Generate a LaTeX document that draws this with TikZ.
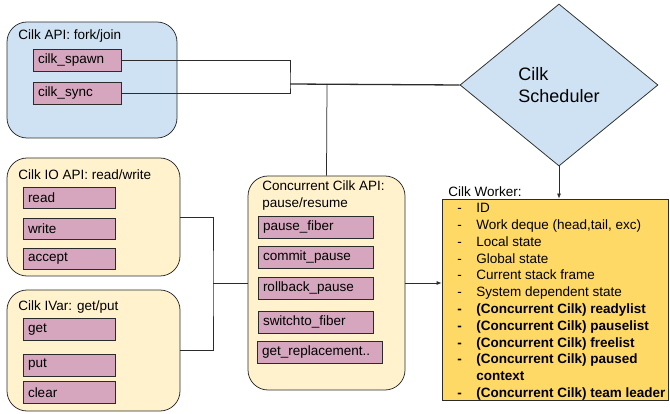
\documentclass[tikz,border=0pt]{standalone}
\usepackage{fontspec}
\setmainfont{Liberation Sans}
\usetikzlibrary{shapes.geometric,arrows.meta}
\definecolor{apiblue}{HTML}{CFE2F3}
\definecolor{apicream}{HTML}{FFF2CC}
\definecolor{fnpink}{HTML}{D5A6BD}
\definecolor{workergold}{HTML}{FFD966}
\definecolor{edgegray}{HTML}{2B2B2B}
\tikzset{every picture/.style={line width=0.75pt}}
\tikzset{
  groupbox/.style={draw=edgegray, rounded corners=20pt, inner sep=0pt},
  fnbox/.style={draw=edgegray, fill=fnpink, inner xsep=5pt, inner ysep=0pt,
    minimum height=22pt, text width=#1, align=left},
  grouptitle/.style={anchor=west, inner sep=0pt, align=left},
  wire/.style={draw=edgegray},
  feed/.style={draw=edgegray, -{Latex[length=5pt,width=4pt]}}
}
\newcommand{\apifont}{\fontsize{13.5}{16.8}\selectfont}

\begin{document}
\begin{tikzpicture}[x=1pt, y=-1pt, font=\apifont]
\useasboundingbox (0,0) rectangle (670,414);
% fork/join group
\node[groupbox, fill=apiblue, minimum width=170pt, minimum height=116pt] (forkjoin) at (92,80) {};
\node[grouptitle] (forkjointitle) at (18,36) {Cilk API: fork/join};
\node[fnbox=78pt] (spawn) at (77,60) {cilk\_spawn};
\node[fnbox=78pt] (sync) at (77,93.5) {cilk\_sync};
%
% IO group
\node[groupbox, fill=apicream, minimum width=173pt, minimum height=118pt] (io) at (93.5,217) {};
\node[grouptitle] (iotitle) at (18,175) {Cilk IO API: read/write};
\node[fnbox=82pt, minimum height=21pt] (read) at (69,197.5) {read};
\node[fnbox=82pt, minimum height=21pt] (write) at (69,228.5) {write};
\node[fnbox=82pt, minimum height=21pt] (accept) at (69,259) {accept};
%
% IVar group
\node[groupbox, fill=apicream, minimum width=173pt, minimum height=121pt] (ivar) at (93.5,350.5) {};
\node[grouptitle] (ivartitle) at (18,307) {Cilk IVar: get/put};
\node[fnbox=82pt] (get) at (69,329.5) {get};
\node[fnbox=82pt] (put) at (69,365) {put};
\node[fnbox=82pt] (clear) at (69,392.5) {clear};
%
% pause/resume group
\node[groupbox, fill=apicream, minimum width=157pt, minimum height=214pt] (conc) at (326.5,283) {};
\node[grouptitle] (conctitle) at (262,195.5) {Concurrent Cilk API:\\pause/resume};
\node[fnbox=105pt] (pausefiber) at (315.5,227) {pause\_fiber};
\node[fnbox=105pt] (commitpause) at (315.5,257) {commit\_pause};
\node[fnbox=105pt] (rollbackpause) at (315.5,288) {rollback\_pause};
\node[fnbox=105pt] (switchto) at (315.5,322) {switchto\_fiber};
\node[fnbox=115pt] (getrepl) at (319.5,352) {get\_replacement..};
%
% scheduler and worker
\node[diamond, draw=edgegray, fill=apiblue, inner sep=0pt, minimum width=198pt,
  minimum height=162pt, align=left, font=\fontsize{18}{22}\selectfont] (sched) at (559,85) {Cilk\\Scheduler};
\node[draw=edgegray, fill=workergold, inner sep=0pt, minimum width=226pt, minimum height=201pt] (worker) at (555,299.5) {};
\node[grouptitle] (workertitle) at (448,192) {Cilk Worker:};
\node[anchor=north west, inner sep=0pt] (workerlist) at (457,200.5) {%
\begin{tabular}{@{}p{19pt}@{}l@{}}
- & ID\\
- & Work deque (head,tail, exc)\\
- & Local state\\
- & Global state\\
- & Current stack frame\\
- & System dependent state\\
\textbf{-} & \textbf{(Concurrent Cilk) readylist}\\
\textbf{-} & \textbf{(Concurrent Cilk) pauselist}\\
\textbf{-} & \textbf{(Concurrent Cilk) freelist}\\
\textbf{-} & \textbf{(Concurrent Cilk) paused}\\
 & \textbf{context}\\
\textbf{-} & \textbf{(Concurrent Cilk) team leader}
\end{tabular}};
%
\coordinate (forkjoin join) at (290,84);
\coordinate (sched tap) at (327,84);
\coordinate (io join) at (213,283);
%
\draw[wire] (spawn.east) -| (forkjoin join) |- (sync.east);
\draw[wire, line width=1.3pt] (forkjoin join) -- (sched.west);
\draw[wire] (sched tap) -- (conc.north);
\draw[wire] (io.east) -| (io join) |- (ivar.east);
\draw[wire] (io join) -- (conc.west);
\draw[feed] (conc.east) -- (conc.east -| worker.west);
\draw[feed] (sched.south) -- (sched.south |- worker.north);
\end{tikzpicture}
\end{document}
